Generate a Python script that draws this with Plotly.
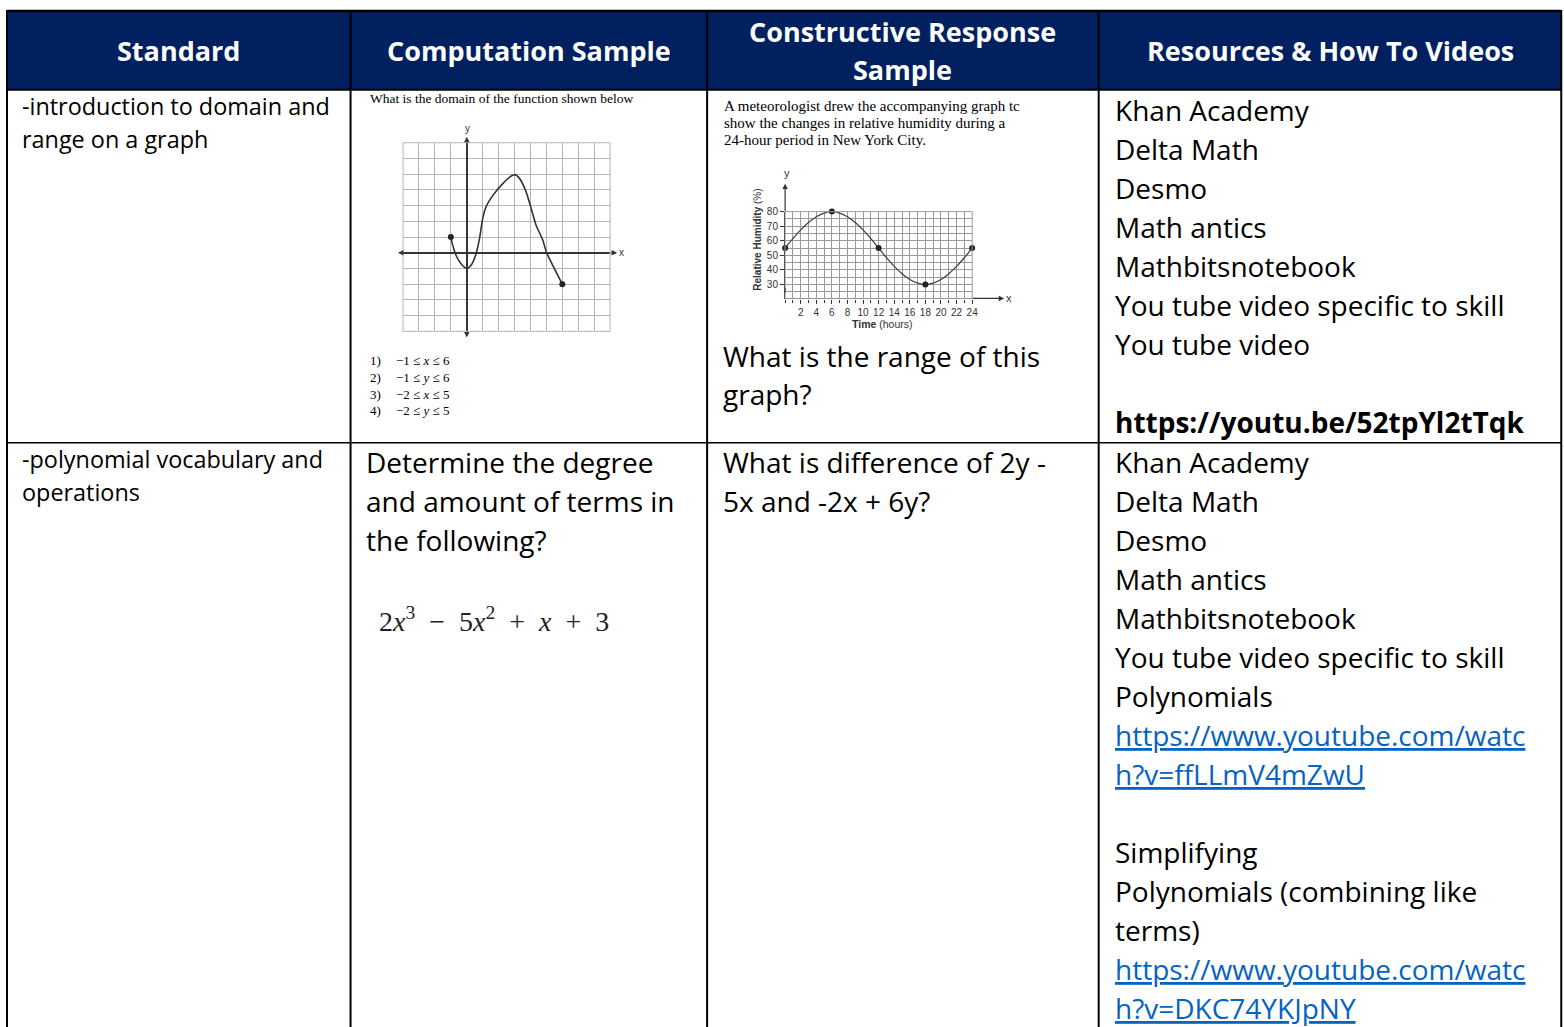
import plotly.graph_objects as go

W, H = 1564, 1027

# ---- table content ----
headers = ["Standard", "Computation Sample", "Constructive Response", "Sample", "Resources & How To Videos"]

standard_1 = ["-introduction to domain and", "range on a graph"]
standard_2 = ["-polynomial vocabulary and", "operations"]

domain_question = "What is the domain of the function shown below"
domain_choices = ["1)", "2)", "3)", "4)"]
domain_answers = ["\u22121 \u2264 <i>x</i> \u2264 6", "\u22121 \u2264 <i>y</i> \u2264 6",
                  "\u22122 \u2264 <i>x</i> \u2264 5", "\u22122 \u2264 <i>y</i> \u2264 5"]
computation_2 = ["Determine the degree", "and amount of terms in", "the following?"]
polynomial = ("2<i>x</i><sup>3</sup>\u2002\u2212\u20025<i>x</i><sup>2</sup>\u2002+\u2002<i>x</i>"
              "\u2002+\u20023")

humidity_intro = ["A meteorologist drew the accompanying graph tc",
                  "show the changes in relative humidity during a",
                  "24-hour period in New York City."]
constructive_1 = ["What is the range of this", "graph?"]
constructive_2 = ["What is difference of 2y -", "5x and -2x + 6y?"]

resources_1 = ["Khan Academy", "Delta Math", "Desmo", "Math antics", "Mathbitsnotebook",
               "You tube video specific to skill", "You tube video", "",
               "<b>https://youtu.be/52tpYl2tTqk</b>"]
resources_2 = ["Khan Academy", "Delta Math", "Desmo", "Math antics", "Mathbitsnotebook",
               "You tube video specific to skill", "Polynomials",
               "https://www.youtube.com/watc", "h?v=ffLLmV4mZwU", "",
               "Simplifying", "Polynomials (combining like", "terms)",
               "https://www.youtube.com/watc", "h?v=DKC74YKJpNY"]

# ---- graph data ----
curve_x = [-1, -0.88, -0.67, -0.36, 0, 0.27, 0.55, 0.8, 1.0, 1.2, 1.64, 2.26, 2.68, 3.0,
           3.3, 3.73, 4.05, 4.36, 4.78, 5.0, 5.4, 6]
curve_y = [1, 0.47, -0.17, -0.7, -1.0, -0.8, -0.17, 0.9, 2.17, 2.9, 3.65, 4.4, 4.8, 4.97,
           4.75, 3.86, 2.8, 1.74, 0.79, 0.04, -0.8, -2]
curve_ends_x = [-1, 6]
curve_ends_y = [1, -2]

hours = list(range(25))
humidity = [55, 61.5, 67.5, 72.5, 76.5, 79, 80, 79, 76.5, 72.5, 67.5, 61.5, 55,
            48.5, 42.5, 37.5, 33.5, 31, 30, 31, 33.5, 37.5, 42.5, 48.5, 55]
marked_hours = [0, 6, 12, 18, 24]
marked_humidity = [55, 80, 55, 30, 55]
hour_ticks = [2, 4, 6, 8, 10, 12, 14, 16, 18, 20, 22, 24]
humidity_ticks = [30, 40, 50, 60, 70, 80]

NAVY = "#002060"
LINK = "#0563C1"
BODY = "Open Sans, Noto Sans, sans-serif"
SERIF = "Liberation Serif, Times New Roman, serif"
SANS = "Liberation Sans, Arial, sans-serif"
BODY_SIZE = 28

# small correction for how the page ends up in the screenshot
SCALE, SHIFT_Y = 0.996, 4
TEXT_DX, TEXT_DY = -2.5, -2.5


def px(x):
    return x / SCALE / W


def py(y):
    return 1 - (y - SHIFT_Y) / SCALE / H


fig = go.Figure()

annotations = []
shapes = []


def text(x, y, s, size, color="black", family=BODY, xanchor="left", angle=0):
    annotations.append(dict(x=px(x + TEXT_DX), y=py(y + TEXT_DY), xref="paper", yref="paper",
                            text=s, showarrow=False, xanchor=xanchor, yanchor="middle",
                            textangle=angle,
                            font=dict(size=size, color=color, family=family)))


def arrow(tip_x, tip_y, dx, dy):
    annotations.append(dict(x=px(tip_x), y=py(tip_y), xref="paper", yref="paper",
                            ax=dx, ay=dy, text="", showarrow=True, arrowhead=2,
                            arrowsize=0.9, arrowwidth=1.2, arrowcolor="#333"))


def line(x0, y0, x1, y1, width=2, color="black"):
    shapes.append(dict(type="line", xref="paper", yref="paper", x0=px(x0), y0=py(y0),
                       x1=px(x1), y1=py(y1), line=dict(color=color, width=width)))


# ---- table frame ----
shapes.append(dict(type="rect", xref="paper", yref="paper", x0=px(7), x1=px(1561),
                   y0=py(88), y1=py(9), fillcolor=NAVY, line=dict(width=0), layer="below"))
line(7, 9, 1561, 9, 2.5)
line(7, 88, 1561, 88, 2)
line(7, 441.5, 1561, 441.5, 1.5)
for xc in [7, 350.5, 707, 1098.5, 1561]:
    line(xc, 8, xc, 1035, 2)

# ---- header ----
HS = 27
text(181, 51, "<b>" + headers[0] + "</b>", HS, "white", xanchor="center")
text(531, 51, "<b>" + headers[1] + "</b>", HS, "white", xanchor="center")
text(905, 32, "<b>" + headers[2] + "</b>", HS, "white", xanchor="center")
text(905, 70, "<b>" + headers[3] + "</b>", HS, "white", xanchor="center")
text(1333, 51, "<b>" + headers[4] + "</b>", HS, "white", xanchor="center")

# ---- column 1 ----
for i, s in enumerate(standard_1):
    text(22, 107 + 33 * i, s, 23.4)
for i, s in enumerate(standard_2):
    text(22, 460 + 33 * i, s, 23.4)

# ---- column 2 ----
text(370, 99, domain_question, 13.5, family=SERIF)
for i, (c, a) in enumerate(zip(domain_choices, domain_answers)):
    yy = 362 + 16.7 * i
    text(370, yy, c, 13, family=SERIF)
    text(396, yy, a, 13, family=SERIF)
for i, s in enumerate(computation_2):
    text(366, 463 + 39.3 * i, s, BODY_SIZE)
text(379, 621, polynomial, 28, "#222", family=SERIF)

# ---- column 3 ----
for i, s in enumerate(humidity_intro):
    text(724, 107 + 17 * i, s, 15, family=SERIF)
for i, s in enumerate(constructive_1):
    text(723, 357 + 38 * i, s, BODY_SIZE)
for i, s in enumerate(constructive_2):
    text(723, 463 + 39.5 * i, s, BODY_SIZE)

# ---- column 4 ----
for block, y0 in [(resources_1, 111), (resources_2, 463)]:
    for i, s in enumerate(block):
        if not s:
            continue
        if s.startswith("http") or s.startswith("h?v="):
            text(1115, y0 + 39.07 * i, "<u>" + s + "</u>", BODY_SIZE, LINK)
        else:
            text(1115, y0 + 39.07 * i, s, BODY_SIZE)

# ---- graph 1: domain question ----
g1 = dict(x0=403, x1=610, y0=141, y1=330)
fig.add_trace(go.Scatter(x=curve_x, y=curve_y, mode="lines", xaxis="x2", yaxis="y2",
                         line=dict(color="#333", width=1.6, shape="spline", smoothing=0.8),
                         hoverinfo="skip"))
fig.add_trace(go.Scatter(x=curve_ends_x, y=curve_ends_y, mode="markers", xaxis="x2", yaxis="y2",
                         marker=dict(color="#222", size=6), cliponaxis=False, hoverinfo="skip"))
shapes.append(dict(type="rect", xref="x2 domain", yref="y2 domain", x0=0, x1=1, y0=0, y1=1,
                   line=dict(color="#b5b5b5", width=1)))
g1_ax_y = g1["y0"] + (7 / 12) * (g1["y1"] - g1["y0"])
g1_ax_x = g1["x0"] + (4 / 13) * (g1["x1"] - g1["x0"])
arrow(g1["x0"] - 5, g1_ax_y, 6, 0)
arrow(g1["x1"] + 7, g1_ax_y, -8, 0)
arrow(g1_ax_x, g1["y0"] - 6, 0, 7)
arrow(g1_ax_x, g1["y1"] + 6, 0, -7)
text(g1_ax_x + 3, 129, "y", 10, "#333", family=SANS, xanchor="center")
text(624, g1_ax_y + 2, "x", 10, "#333", family=SANS, xanchor="center")

# ---- graph 2: humidity ----
g2 = dict(x0=785, x1=972, y0=210, y1=297)
fig.add_trace(go.Scatter(x=hours, y=humidity, mode="lines", xaxis="x3", yaxis="y3",
                         line=dict(color="#444", width=1.3, shape="spline", smoothing=1.0),
                         hoverinfo="skip"))
fig.add_trace(go.Scatter(x=marked_hours, y=marked_humidity, mode="markers", xaxis="x3", yaxis="y3",
                         marker=dict(color="#222", size=6), cliponaxis=False, hoverinfo="skip"))
shapes.append(dict(type="rect", xref="x3 domain", yref="y3 domain", x0=0, x1=1, y0=0, y1=1,
                   line=dict(color="#9a9a9a", width=1)))
arrow(1004, g2["y1"], -33, 0)
arrow(g2["x0"], 182, 0, 29)
text(789, 174, "y", 11, "#333", family=SANS, xanchor="center")
text(1011, g2["y1"] + 2, "x", 11, "#333", family=SANS, xanchor="center")
text(786, 291, "~", 10, "#333", family=SANS, xanchor="center", angle=90)
text(759, 241, "<b>Relative Humidity</b> (%)", 10, "#333", family=SANS, xanchor="center", angle=-90)
text(885, 325, "<b>Time</b> (hours)", 10.5, "#333", family=SANS, xanchor="center")

fig.update_layout(
    width=W, height=H, margin=dict(l=0, r=0, t=0, b=0),
    paper_bgcolor="white", plot_bgcolor="white", showlegend=False,
    xaxis=dict(visible=False), yaxis=dict(visible=False),
    xaxis2=dict(domain=[px(g1["x0"]), px(g1["x1"])], range=[-4, 9], anchor="y2",
                dtick=1, showgrid=True, gridcolor="#b5b5b5", gridwidth=1,
                zeroline=True, zerolinecolor="#333", zerolinewidth=1.5,
                showticklabels=False, ticks="", fixedrange=True),
    yaxis2=dict(domain=[py(g1["y1"]), py(g1["y0"])], range=[-5, 7], anchor="x2",
                dtick=1, showgrid=True, gridcolor="#b5b5b5", gridwidth=1,
                zeroline=True, zerolinecolor="#333", zerolinewidth=1.5,
                showticklabels=False, ticks="", fixedrange=True),
    xaxis3=dict(domain=[px(g2["x0"]), px(g2["x1"])], range=[0, 24], anchor="y3",
                tickvals=hour_ticks, showgrid=True, gridcolor="#9a9a9a", gridwidth=1,
                minor=dict(dtick=1, showgrid=True, gridcolor="#9a9a9a", gridwidth=1,
                           ticks="outside", ticklen=3, tickcolor="#333"),
                zeroline=False, showline=True, linecolor="#333", linewidth=1.3,
                ticks="outside", ticklen=4, tickcolor="#333",
                tickfont=dict(size=10, color="#333", family=SANS), fixedrange=True),
    yaxis3=dict(domain=[py(g2["y1"]), py(g2["y0"])], range=[20.5, 80], anchor="x3",
                tickvals=humidity_ticks, showgrid=True, gridcolor="#9a9a9a", gridwidth=1,
                minor=dict(dtick=5, showgrid=True, gridcolor="#9a9a9a", gridwidth=1),
                zeroline=False, showline=True, linecolor="#333", linewidth=1.3,
                ticks="outside", ticklen=4, tickcolor="#333",
                tickfont=dict(size=10, color="#333", family=SANS), fixedrange=True),
    annotations=annotations, shapes=shapes,
)

fig.write_html(
    "out.html",
    config={"displayModeBar": False},
    post_script=(
        "document.documentElement.style.overflow='hidden';"
        "document.body.style.margin='0';document.body.style.padding='0';"
        "var gd=document.getElementById('{plot_id}');"
        "gd.style.position='absolute';gd.style.left='0px';gd.style.top='0px';"
    ),
)
